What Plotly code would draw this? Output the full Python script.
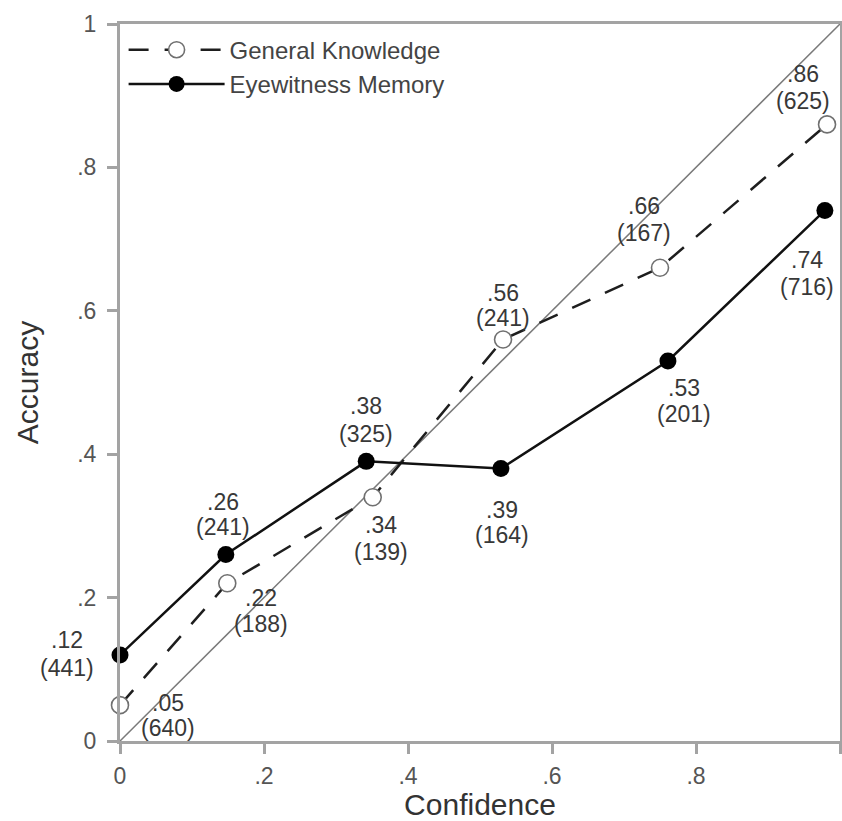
import plotly.graph_objects as go

# ---- data ----
gk_conf = [0.0, 0.149, 0.351, 0.532, 0.75, 0.982]
gk_acc = [0.05, 0.22, 0.34, 0.56, 0.66, 0.86]
gk_acc_text = [".05", ".22", ".34", ".56", ".66", ".86"]
gk_n = ["(640)", "(188)", "(139)", "(241)", "(167)", "(625)"]

ew_conf = [0.0, 0.147, 0.342, 0.529, 0.761, 0.979]
ew_acc = [0.12, 0.26, 0.39, 0.38, 0.53, 0.74]
ew_acc_text = [".12", ".26", ".38", ".39", ".53", ".74"]
ew_n = ["(441)", "(241)", "(325)", "(164)", "(201)", "(716)"]

tick_vals = [0, 0.2, 0.4, 0.6, 0.8, 1]
tick_text = ["0", ".2", ".4", ".6", ".8", "1"]

# ---- label offsets (style, pixels): dx, value-line yshift, count-line yshift ----
gk_off = [(48, 2, -23), (34, -15, -41), (8, -28, -55), (0, 46, 21), (-16, 62, 35), (-24, 50, 23)]
ew_off = [(-53, 15, -13), (-3, 53, 28), (0, 55, 27), (1, -41, -66), (16, -27, -53), (-18, -50, -77)]

FONT = "Liberation Sans, Arial, sans-serif"
AXC = "#a3a3a3"

fig = go.Figure()

# identity line
fig.add_trace(go.Scatter(x=[tick_vals[0], tick_vals[-1]], y=[tick_vals[0], tick_vals[-1]],
                         mode="lines", line=dict(color="#7a7a7a", width=1.5),
                         showlegend=False, hoverinfo="skip", cliponaxis=False))

fig.add_trace(go.Scatter(x=gk_conf, y=gk_acc, mode="lines+markers", name="General Knowledge",
                         line=dict(color="#1e1e1e", width=2.5, dash="20px,16px"),
                         marker=dict(symbol="circle", size=17, color="white",
                                     line=dict(color="#707070", width=1.6)),
                         cliponaxis=False))
fig.add_trace(go.Scatter(x=ew_conf, y=ew_acc, mode="lines+markers", name="Eyewitness Memory",
                         line=dict(color="#111111", width=2.5),
                         marker=dict(symbol="circle", size=17, color="black"),
                         cliponaxis=False))

ann = []
def add_labels(xs, ys, vals, ns, offs):
    for x, y, v, n, (dx, s1, s2) in zip(xs, ys, vals, ns, offs):
        for txt, ys_ in ((v, s1), (n, s2)):
            ann.append(dict(x=x, y=y, xref="x", yref="y", text=txt, showarrow=False,
                            xshift=dx, yshift=ys_, xanchor="center", yanchor="middle",
                            font=dict(family=FONT, size=23, color="#383838")))

add_labels(gk_conf, gk_acc, gk_acc_text, gk_n, gk_off)
add_labels(ew_conf, ew_acc, ew_acc_text, ew_n, ew_off)

axis_common = dict(range=[0, 1], tickvals=tick_vals, ticktext=tick_text, automargin=False,
                   showgrid=False, zeroline=False, showline=True, linecolor=AXC, linewidth=3,
                   mirror=True, ticks="outside", ticklen=10, tickwidth=3, tickcolor=AXC,
                   tickfont=dict(family=FONT, size=23, color="#555555"))

fig.update_layout(
    width=842, height=821,
    margin=dict(l=120, r=2, t=24, b=80),
    paper_bgcolor="white", plot_bgcolor="white",
    xaxis=dict(**axis_common, ticklabelstandoff=2,
               title=dict(text="Confidence", standoff=8,
                          font=dict(family=FONT, size=30, color="#333333"))),
    yaxis=dict(**axis_common, ticklabelstandoff=6,
               title=dict(text="Accuracy", standoff=30,
                          font=dict(family=FONT, size=30, color="#333333"))),
    legend=dict(x=0.005, y=0.995, xanchor="left", yanchor="top", bgcolor="rgba(0,0,0,0)",
                font=dict(family=FONT, size=24, color="#444444"), itemwidth=96,
                tracegroupgap=4),
    annotations=ann,
    showlegend=True,
)

# remove the browser's default 8px body margin so the figure fills the window exactly
fig.write_html("out.html",
               config={"displayModeBar": False},
               post_script="document.body.style.margin='0';document.body.style.overflow='hidden';")
